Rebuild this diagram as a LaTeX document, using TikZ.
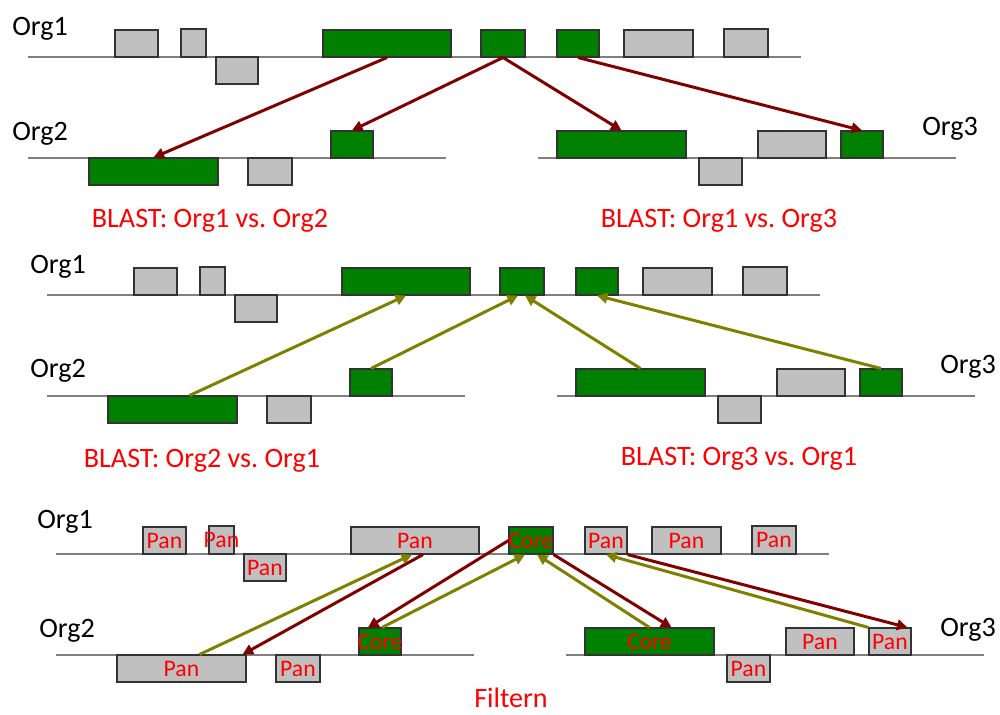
\documentclass[tikz,border=0pt]{standalone}
\usepackage{fontspec}
\setmainfont{Carlito}
\usepackage{xcolor}
\usetikzlibrary{arrows.meta,positioning,calc,fit}

\definecolor{genegreen}{RGB}{0,128,0}
\definecolor{genegray}{RGB}{192,192,192}
\definecolor{fwdred}{RGB}{128,0,0}
\definecolor{backolive}{RGB}{128,128,0}
\definecolor{labelred}{RGB}{255,0,0}

\begin{document}
\begin{tikzpicture}[
    x=0.02cm, y=-0.02cm,
    chrom/.style={draw=black!50, line width=0.8pt},
    gene/.style={draw=black!80, line width=0.6pt, inner sep=0pt},
    core/.style={gene, fill=genegreen},
    pan/.style={gene, fill=genegray},
    tag/.style={text=labelred, font=\fontsize{13.5}{15}\selectfont},
    core tagged/.style={core, label={[tag]center:Core}},
    pan tagged/.style={pan, label={[tag]center:Pan}},
    org/.style={anchor=base west, inner sep=0pt, font=\fontsize{16}{19}\selectfont},
    caption/.style={anchor=base, inner sep=0pt, text=labelred, font=\fontsize{16}{19}\selectfont},
    fwd/.style={-{Triangle[length=6pt,width=6pt]}, draw=fwdred, line width=1.7pt},
    back/.style={-{Triangle[length=6pt,width=6pt]}, draw=backolive, line width=1.7pt}
]
    \useasboundingbox (0,0) rectangle (1000,714);

    % Org1 against Org2 and Org3
    \begin{scope}
        \draw[chrom] (28,57) -- (801,57);
        \draw[chrom] (28,158) -- (446,158);
        \draw[chrom] (538,158) -- (956,158);
        \node[org] (aorg1) at (12,35) {Org1};
        \node[org] (aorg2) at (12,140) {Org2};
        \node[org] (aorg3) at (922,135) {Org3};

        \node[pan, fit={(115,30) (158,57)}] (a11) {};
        \node[pan, fit={(181,29) (206,57)}] (a12) {};
        \node[pan, fit={(216,57) (258,84)}] (a13) {};
        \node[core, fit={(323,30) (451,57)}] (a14) {};
        \node[core, fit={(481,30) (525,57)}] (a15) {};
        \node[core, fit={(557,30) (599,57)}] (a16) {};
        \node[pan, fit={(624,30) (693,57)}] (a17) {};
        \node[pan, fit={(724,29) (768,57)}] (a18) {};

        \node[core, fit={(89,158) (218,185)}] (a21) {};
        \node[pan, fit={(248,158) (292,185)}] (a22) {};
        \node[core, fit={(331,131) (373,158)}] (a23) {};

        \node[core, fit={(557,131) (686,158)}] (a31) {};
        \node[pan, fit={(699,158) (742,185)}] (a32) {};
        \node[pan, fit={(758,131) (826,158)}] (a33) {};
        \node[core, fit={(841,131) (883,158)}] (a34) {};

        \draw[fwd] (a14.south) -- (a21.north);
        \draw[fwd] (a15.south) -- (a23.north);
        \draw[fwd] (a15.south) -- (a31.north);
        \draw[fwd] (a16.south) -- (a34.north);

        \node[caption] (acap2) at (210,227) {BLAST: Org1 vs.\ Org2};
        \node[caption] (acap3) at (719,227) {BLAST: Org1 vs.\ Org3};
    \end{scope}

    % Org2 and Org3 back against Org1
    \begin{scope}[shift={(19,238)}]
        \draw[chrom] (28,57) -- (801,57);
        \draw[chrom] (28,158) -- (446,158);
        \draw[chrom] (538,158) -- (956,158);
        \node[org] (borg1) at (11,35) {Org1};
        \node[org] (borg2) at (11,139) {Org2};
        \node[org] (borg3) at (921,135) {Org3};

        \node[pan, fit={(115,30) (158,57)}] (b11) {};
        \node[pan, fit={(181,29) (206,57)}] (b12) {};
        \node[pan, fit={(216,57) (258,84)}] (b13) {};
        \node[core, fit={(323,30) (451,57)}] (b14) {};
        \node[core, fit={(481,30) (525,57)}] (b15) {};
        \node[core, fit={(557,30) (599,57)}] (b16) {};
        \node[pan, fit={(624,30) (693,57)}] (b17) {};
        \node[pan, fit={(724,29) (768,57)}] (b18) {};

        \node[core, fit={(89,158) (218,185)}] (b21) {};
        \node[pan, fit={(248,158) (292,185)}] (b22) {};
        \node[core, fit={(331,131) (373,158)}] (b23) {};

        \node[core, fit={(557,131) (686,158)}] (b31) {};
        \node[pan, fit={(699,158) (742,185)}] (b32) {};
        \node[pan, fit={(758,131) (826,158)}] (b33) {};
        \node[core, fit={(841,131) (883,158)}] (b34) {};

        \draw[back] ($(b21.north)+(17,0)$) -- (b14.south);
        \draw[back] (b23.north) -- ($(b15.south)+(-4,0)$);
        \draw[back] (b31.north) -- ($(b15.south)+(3,0)$);
        \draw[back] (b34.north) -- (b16.south);

        \node[caption] (bcap2) at (183,229) {BLAST: Org2 vs.\ Org1};
        \node[caption] (bcap3) at (720,227) {BLAST: Org3 vs.\ Org1};
    \end{scope}

    % both directions kept -> core and pan genes
    \begin{scope}[shift={(28,497)}]
        \draw[chrom] (28,57) -- (801,57);
        \draw[chrom] (28,158) -- (446,158);
        \draw[chrom] (538,158) -- (956,158);
        \node[org] (corg1) at (9,31) {Org1};
        \node[org] (corg2) at (11,140) {Org2};
        \node[org] (corg3) at (912,139) {Org3};

        \node[pan tagged, fit={(115,30) (158,57)}] (c11) {};
        \node[pan tagged, fit={(181,29) (206,57)}] (c12) {};
        \node[pan tagged, fit={(216,57) (258,84)}] (c13) {};
        \node[pan tagged, fit={(323,30) (451,57)}] (c14) {};
        \node[core tagged, fit={(481,30) (525,57)}] (c15) {};
        \node[pan tagged, fit={(557,30) (599,57)}] (c16) {};
        \node[pan tagged, fit={(624,30) (693,57)}] (c17) {};
        \node[pan tagged, fit={(724,29) (768,57)}] (c18) {};

        \node[pan tagged, fit={(89,158) (218,185)}] (c21) {};
        \node[pan tagged, fit={(248,158) (292,185)}] (c22) {};
        \node[core tagged, fit={(331,131) (373,158)}] (c23) {};

        \node[core tagged, fit={(557,131) (686,158)}] (c31) {};
        \node[pan tagged, fit={(699,158) (742,185)}] (c32) {};
        \node[pan tagged, fit={(758,131) (826,158)}] (c33) {};
        \node[pan tagged, fit={(841,131) (883,158)}] (c34) {};

        \draw[fwd] ($(c14.south)+(8,0)$) -- ($(c21.north east)+(-4,0)$);
        \draw[back] ($(c21.north)+(18,0)$) -- ($(c14.south)+(-3,0)$);
        \draw[fwd] (c15.west) -- ($(c23.north)+(-12,0)$);
        \draw[back] ($(c23.north)+(2,0)$) -- ($(c15.south)+(-6,0)$);
        \draw[back] (c31.north) -- ($(c15.south)+(6,0)$);
        \draw[fwd] (c15.south east) -- ($(c31.north)+(22,0)$);
        \draw[fwd] (c16.south east) -- ($(c34.north east)+(-4,0)$);
        \draw[back] (c34.north west) -- (c16.south);

        \node[caption] (ccap) at (483,210) {Filtern};
    \end{scope}
\end{tikzpicture}
\end{document}
